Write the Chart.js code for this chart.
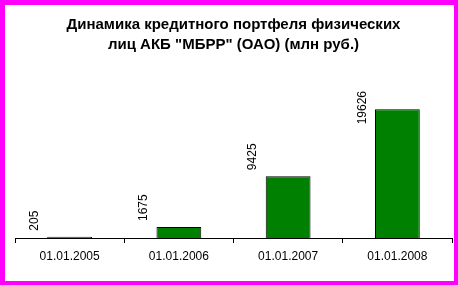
<!DOCTYPE html>
<html lang="ru">
<head>
  <meta charset="UTF-8">
  <title>Динамика кредитного портфеля</title>
  <script src="https://cdn.jsdelivr.net/npm/chart.js"></script>
  <style>
    body {
      margin: 0;
      background: #ff00ff;
      width: 458px;
      height: 285px;
      overflow: hidden;
    }
    .box {
      position: absolute;
      left: 5px;
      top: 5px;
      width: 449px;
      height: 276px;
      background: #fff;
    }
  </style>
</head>
<body>
  <div class="box"><canvas id="loanChart"></canvas></div>

  <script>
    const dates = ['01.01.2005', '01.01.2006', '01.01.2007', '01.01.2008'];
    const loans = [205, 1675, 9425, 19626];
    const titleLines = ['Динамика кредитного портфеля физических', 'лиц АКБ "МБРР" (ОАО) (млн руб.)'];

    const fontName = 'Arial, "Liberation Sans", sans-serif';

    // vertical value labels, drawn to the left of each bar top
    const barLabels = {
      id: 'barLabels',
      afterDatasetsDraw(chart) {
        const ctx = chart.ctx;
        const area = chart.chartArea;
        const meta = chart.getDatasetMeta(0);
        ctx.save();
        ctx.font = '12px ' + fontName;
        ctx.fillStyle = '#000';
        ctx.textAlign = 'left';
        ctx.textBaseline = 'middle';
        meta.data.forEach((bar, i) => {
          const txt = String(loans[i]);
          const w = ctx.measureText(txt).width;
          let bottom = bar.y - 6;
          if (bottom - w < area.top) bottom = area.top + w;
          ctx.save();
          ctx.translate(bar.x - 35, bottom);
          ctx.rotate(-Math.PI / 2);
          ctx.fillText(txt, 0, 0);
          ctx.restore();
        });
        ctx.restore();
      }
    };

    new Chart(document.getElementById('loanChart').getContext('2d'), {
      type: 'bar',
      data: {
        labels: dates,
        datasets: [{
          data: loans,
          backgroundColor: '#008000',
          borderColor: '#000',
          borderWidth: 1,
          borderSkipped: 'bottom',
          categoryPercentage: 1,
          barPercentage: 0.41
        }]
      },
      options: {
        responsive: true,
        maintainAspectRatio: false,
        animation: false,
        layout: { padding: { left: 10, right: 2, top: 0, bottom: 0 } },
        plugins: {
          legend: { display: false },
          tooltip: { enabled: false },
          title: {
            display: true,
            text: titleLines,
            color: '#000',
            font: { family: fontName, size: 15, weight: 'bold', lineHeight: 1.333 },
            padding: { top: 10, bottom: 36 }
          }
        },
        scales: {
          x: {
            grid: {
              offset: true,
              drawOnChartArea: false,
              drawTicks: true,
              tickLength: 5,
              color: '#000'
            },
            border: { display: true, color: '#000', width: 1 },
            ticks: {
              color: '#000',
              padding: 6,
              maxRotation: 0,
              font: { family: fontName, size: 12 }
            },
            afterFit(axis) { axis.height = 43; }
          },
          y: {
            display: false,
            min: 0,
            max: 22400
          }
        }
      },
      plugins: [barLabels]
    });
  </script>
</body>
</html>
